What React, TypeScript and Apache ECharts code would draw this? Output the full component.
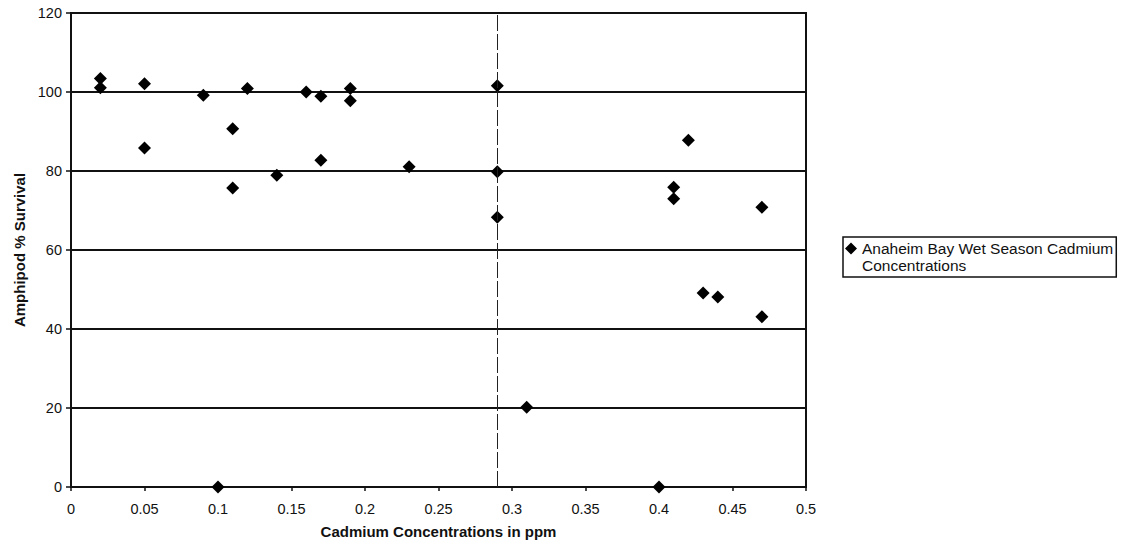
import React, { useEffect, useRef } from "react";
import * as echarts from "echarts";

const seriesName = "Anaheim Bay Wet Season Cadmium\nConcentrations";
const cadmiumPpm = [0.02, 0.02, 0.05, 0.05, 0.09, 0.1, 0.11, 0.11, 0.12, 0.14, 0.16, 0.17, 0.17, 0.19, 0.19, 0.23, 0.29, 0.29, 0.29, 0.31, 0.4, 0.41, 0.41, 0.42, 0.43, 0.44, 0.47, 0.47];
const survivalPct = [103.4, 101.1, 102.1, 85.8, 99.2, 0, 90.7, 75.7, 100.9, 78.9, 100, 98.9, 82.7, 100.9, 97.8, 81.1, 101.6, 79.8, 68.3, 20.2, 0, 75.9, 73, 87.8, 49.1, 48.1, 70.8, 43.1];
const referenceLineX = [0.291];
const xAxisTitle = "Cadmium Concentrations in ppm";
const yAxisTitle = "Amphipod % Survival";

const FONT = "'Liberation Sans', Arial, sans-serif";
const INK = "#111";

export default function App() {
  const ref = useRef<HTMLDivElement>(null);
  useEffect(() => {
    if (!ref.current) return;
    const chart = echarts.init(ref.current, null, { renderer: "svg" });
    const points = cadmiumPpm.map((x, i) => [x, survivalPct[i]]);
    chart.setOption({
      animation: false,
      backgroundColor: "#ffffff",
      textStyle: { fontFamily: FONT, color: INK },
      grid: {
        left: 71,
        right: 319,
        top: 13,
        bottom: 63,
        show: true,
        borderColor: INK,
        borderWidth: 2,
        backgroundColor: "transparent",
      },
      xAxis: {
        type: "value",
        min: 0,
        max: 0.5,
        interval: 0.05,
        name: xAxisTitle,
        nameLocation: "middle",
        nameGap: 37,
        nameTextStyle: { fontFamily: FONT, fontWeight: "bold", fontSize: 15, color: INK },
        axisLine: { show: true, onZero: false, lineStyle: { color: INK, width: 2 } },
        axisTick: { show: true, inside: false, length: 4, lineStyle: { color: INK, width: 1.5 } },
        axisLabel: { fontFamily: FONT, fontSize: 14.5, color: INK, margin: 14 },
        splitLine: { show: false },
      },
      yAxis: {
        type: "value",
        min: 0,
        max: 120,
        interval: 20,
        name: yAxisTitle,
        nameLocation: "middle",
        nameGap: 41,
        nameTextStyle: { fontFamily: FONT, fontWeight: "bold", fontSize: 15, color: INK },
        axisLine: { show: true, lineStyle: { color: INK, width: 2 } },
        axisTick: { show: true, inside: false, length: 5, lineStyle: { color: INK, width: 1.5 } },
        axisLabel: { fontFamily: FONT, fontSize: 14.5, color: INK, margin: 9 },
        splitLine: { show: true, lineStyle: { color: INK, width: 2 } },
      },
      legend: {
        show: true,
        left: 843,
        top: 237,
        orient: "vertical",
        padding: [3, 3, 3, 2],
        borderColor: INK,
        borderWidth: 1.5,
        itemWidth: 12,
        itemHeight: 34,
        icon: "path://M0,0L0.01,0M6,2.5L12,8.5L6,14.5L0,8.5ZM0,34L0.01,34",
        textStyle: { fontFamily: FONT, fontSize: 15.5, lineHeight: 17, color: INK },
        data: [seriesName],
      },
      series: [
        {
          name: seriesName,
          type: "scatter",
          symbol: "diamond",
          symbolSize: 13,
          itemStyle: { color: "#000000", opacity: 1 },
          data: points,
          markLine: {
            silent: true,
            symbol: "none",
            label: { show: false },
            lineStyle: { color: "#222", width: 1, type: [16, 3] },
            data: referenceLineX.map((v) => ({ xAxis: v })),
          },
        },
      ],
    });
    return () => chart.dispose();
  }, []);
  return (
    <div
      ref={ref}
      style={{ position: "absolute", left: 0, top: 0, width: 1125, height: 550 }}
    />
  );
}
